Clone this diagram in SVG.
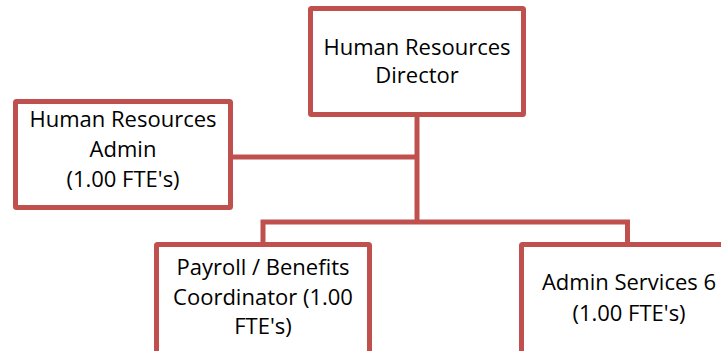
<svg xmlns="http://www.w3.org/2000/svg" width="721" height="351" viewBox="0 0 721 351">
<style>
.box{fill:#FFFFFF;stroke:#C0504D;stroke-width:5;}
.conn{fill:none;stroke:#C0504D;stroke-width:5;stroke-linejoin:miter;}
text{font-family:"Open Sans","Liberation Sans",sans-serif;font-size:22px;fill:#000000;text-anchor:middle;}
</style>
<rect width="721" height="351" fill="#FFFFFF"/>
<g id="connectors">
<path class="conn" d="M417,116 V222"/>
<path class="conn" d="M232,157 H417"/>
<path class="conn" d="M263,243 V222 H627.5 V243"/>
</g>
<g id="director">
<rect class="box" x="310.5" y="8.5" width="213" height="106" rx="1"/>
<text x="417" y="55">Human Resources</text>
<text x="417" y="83">Director</text>
</g>
<g id="hr-admin">
<rect class="box" x="15.5" y="101.5" width="215" height="106" rx="1"/>
<text x="123" y="127">Human Resources</text>
<text x="123" y="157">Admin</text>
<text x="123" y="187">(1.00 FTE's)</text>
</g>
<g id="payroll">
<rect class="box" x="156.5" y="244.5" width="213" height="112" rx="1"/>
<text x="263" y="275">Payroll / Benefits</text>
<text x="263" y="305">Coordinator (1.00</text>
<text x="263" y="334">FTE's)</text>
</g>
<g id="admin-services">
<rect class="box" x="521.5" y="244.5" width="213" height="112" rx="1"/>
<text x="629" y="290">Admin Services 6</text>
<text x="629" y="321">(1.00 FTE's)</text>
</g>
</svg>
